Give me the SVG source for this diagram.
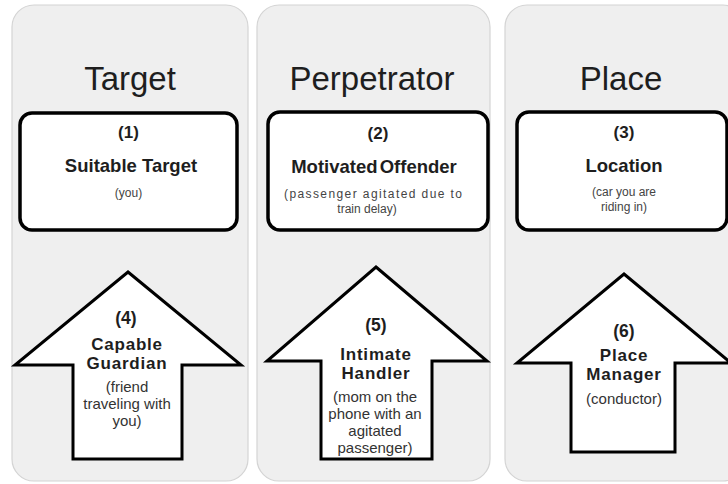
<svg xmlns="http://www.w3.org/2000/svg" width="728" height="484" viewBox="0 0 728 484">
<style>
.panel{fill:#efefef;stroke:#d4d4d4;stroke-width:1.2}
.box{fill:#fff;stroke:#000;stroke-width:3.5}
.arrow{fill:#fff;stroke:#000;stroke-width:3;stroke-linejoin:miter}
text{font-family:"Liberation Sans",Arial,sans-serif;text-anchor:middle}
.title{font-size:33px;fill:#1e1e1e}
.num{font-size:17px;font-weight:bold;fill:#1e1e1e}
.lbl{font-size:18.5px;font-weight:bold;fill:#1e1e1e}
.sub{font-size:12px;fill:#444}
.anum{font-size:17.5px;font-weight:bold;fill:#1e1e1e}
.albl{font-size:17px;font-weight:bold;fill:#1e1e1e;letter-spacing:0.8px}
.asub{font-size:15px;fill:#333}
</style>
<rect width="728" height="484" fill="#fff"/>
<g id="panel-target">
<rect class="panel" x="12" y="5" width="236" height="476" rx="22"/>
<text class="title" x="130" y="90">Target</text>
</g>
<g id="panel-perpetrator">
<rect class="panel" x="257" y="5" width="233" height="476" rx="22"/>
<text class="title" x="372" y="90">Perpetrator</text>
</g>
<g id="panel-place">
<rect class="panel" x="505" y="5" width="240" height="476" rx="22"/>
<text class="title" x="621" y="90">Place</text>
</g>
<g id="node-1">
<rect class="box" x="20" y="113" width="217" height="117" rx="12"/>
<text class="num" x="128.5" y="138">(1)</text>
<text class="lbl" x="131" y="172">Suitable Target</text>
<text class="sub" x="128.5" y="197">(you)</text>
</g>
<g id="node-2">
<rect class="box" x="268" y="112" width="220" height="118" rx="12"/>
<text class="num" x="378" y="139">(2)</text>
<text class="lbl" x="374" y="173" word-spacing="-3">Motivated Offender</text>
<text class="sub" x="373" y="198" textLength="178" lengthAdjust="spacing">(passenger agitated due to</text>
<text class="sub" x="367" y="213">train delay)</text>
</g>
<g id="node-3">
<rect class="box" x="517" y="112" width="210" height="118" rx="12"/>
<text class="num" x="624" y="138">(3)</text>
<text class="lbl" x="624" y="172">Location</text>
<text class="sub" x="624" y="196">(car you are</text>
<text class="sub" x="624" y="211">riding in)</text>
</g>
<g id="node-4">
<polygon class="arrow" points="128,272 241,365 182,365 182,459 73,459 73,365 15,365"/>
<text class="anum" x="126" y="324">(4)</text>
<text class="albl" x="127" y="350">Capable</text>
<text class="albl" x="127" y="369">Guardian</text>
<text class="asub" x="127" y="392">(friend</text>
<text class="asub" x="127" y="409">traveling with</text>
<text class="asub" x="127" y="426">you)</text>
</g>
<g id="node-5">
<polygon class="arrow" points="376,267 487,361 432,361 432,459 321,459 321,361 267,361"/>
<text class="anum" x="376" y="331">(5)</text>
<text class="albl" x="376" y="360">Intimate</text>
<text class="albl" x="376" y="379">Handler</text>
<text class="asub" x="375" y="402">(mom on the</text>
<text class="asub" x="375" y="419">phone with an</text>
<text class="asub" x="375" y="436">agitated</text>
<text class="asub" x="375" y="453">passenger)</text>
</g>
<g id="node-6">
<polygon class="arrow" points="624,274 731,363 675,363 675,452 571,452 571,363 517,363"/>
<text class="anum" x="624" y="337">(6)</text>
<text class="albl" x="624" y="361">Place</text>
<text class="albl" x="624" y="380">Manager</text>
<text class="asub" x="624" y="404">(conductor)</text>
</g>
<g id="connectors"/>
</svg>
